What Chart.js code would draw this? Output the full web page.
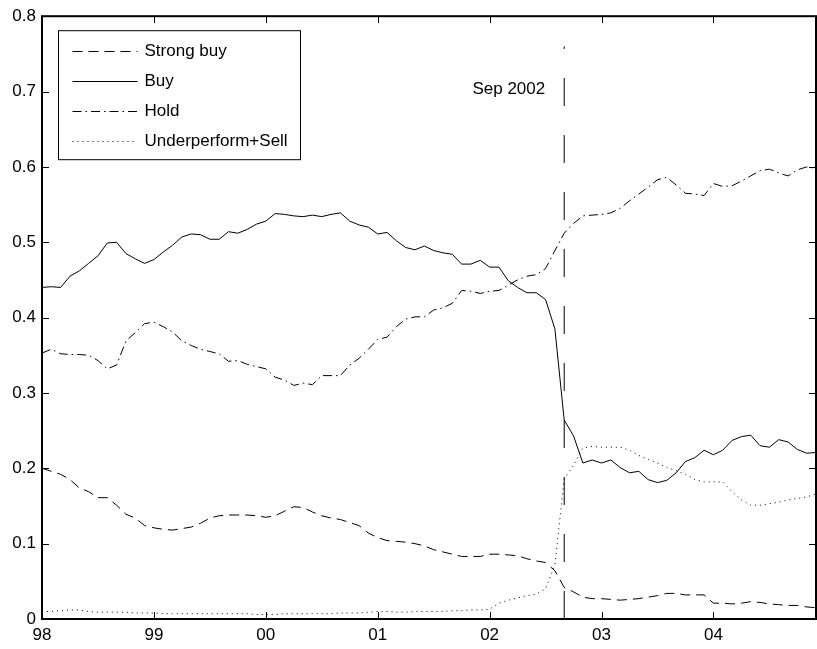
<!DOCTYPE html>
<html>
<head>
<meta charset="utf-8">
<script src="https://cdn.jsdelivr.net/npm/chart.js@4.4.1/dist/chart.umd.min.js"></script>
<style>
  html, body { margin: 0; padding: 0; background: #fff; }
  #wrap { width: 817px; height: 649px; position: relative; }
</style>
</head>
<body>
<div id="wrap"><canvas id="c" width="817" height="649"></canvas></div>
<script>
// ---- data (monthly, Jan 1998 .. Dec 2004) ----
const years = ['1998', '1999', '2000', '2001', '2002', '2003', '2004'];
const monthNames = ['Jan','Feb','Mar','Apr','May','Jun','Jul','Aug','Sep','Oct','Nov','Dec'];
const months = [];
years.forEach(y => monthNames.forEach(m => months.push(m + ' ' + y)));

const xTickLabels = ['98', '99', '00', '01', '02', '03', '04'];
const yTickLabels = ['0', '0.1', '0.2', '0.3', '0.4', '0.5', '0.6', '0.7', '0.8'];

const seriesNames = ['Strong buy', 'Buy', 'Hold', 'Underperform+Sell'];

const strongBuy = [
  0.200, 0.196, 0.192, 0.185, 0.174, 0.169, 0.161, 0.161, 0.151, 0.139,
  0.134, 0.124, 0.121, 0.119, 0.118, 0.120, 0.122, 0.127, 0.134, 0.137,
  0.138, 0.138, 0.138, 0.137, 0.135, 0.137, 0.143, 0.149, 0.148, 0.142,
  0.137, 0.134, 0.132, 0.128, 0.124, 0.114, 0.108, 0.104, 0.103, 0.102,
  0.100, 0.097, 0.092, 0.089, 0.086, 0.083, 0.083, 0.083, 0.086, 0.086,
  0.085, 0.084, 0.080, 0.077, 0.075, 0.064, 0.042, 0.036, 0.029, 0.027,
  0.027, 0.026, 0.025, 0.026, 0.027, 0.029, 0.031, 0.034, 0.034, 0.032,
  0.032, 0.032, 0.021, 0.021, 0.020, 0.021, 0.023, 0.022, 0.020, 0.019,
  0.018, 0.018, 0.016, 0.015
];

const buy = [
  0.440, 0.441, 0.440, 0.455, 0.462, 0.472, 0.482, 0.499, 0.500, 0.485,
  0.478, 0.472, 0.477, 0.487, 0.496, 0.507, 0.511, 0.510, 0.504, 0.504,
  0.514, 0.512, 0.517, 0.524, 0.528, 0.538, 0.537, 0.535, 0.534, 0.536,
  0.534, 0.537, 0.539, 0.528, 0.523, 0.520, 0.511, 0.513, 0.502, 0.493,
  0.490, 0.495, 0.489, 0.486, 0.484, 0.471, 0.471, 0.476, 0.467, 0.467,
  0.449, 0.440, 0.433, 0.433, 0.424, 0.385, 0.264, 0.243, 0.207, 0.211,
  0.207, 0.211, 0.201, 0.194, 0.196, 0.185, 0.181, 0.184, 0.194, 0.209,
  0.214, 0.224, 0.218, 0.224, 0.237, 0.242, 0.244, 0.230, 0.228, 0.238,
  0.235, 0.225, 0.220, 0.221
];

const hold = [
  0.353, 0.358, 0.352, 0.351, 0.351, 0.350, 0.343, 0.332, 0.337, 0.369,
  0.380, 0.392, 0.394, 0.388, 0.381, 0.369, 0.363, 0.358, 0.355, 0.352,
  0.342, 0.343, 0.338, 0.335, 0.332, 0.321, 0.317, 0.310, 0.313, 0.311,
  0.323, 0.323, 0.323, 0.337, 0.346, 0.358, 0.371, 0.374, 0.388, 0.398,
  0.401, 0.401, 0.410, 0.413, 0.419, 0.436, 0.435, 0.432, 0.435, 0.436,
  0.443, 0.450, 0.455, 0.457, 0.465, 0.489, 0.512, 0.525, 0.535, 0.536,
  0.537, 0.539, 0.545, 0.555, 0.564, 0.573, 0.583, 0.586, 0.576, 0.565,
  0.564, 0.562, 0.578, 0.574, 0.575, 0.581, 0.588, 0.595, 0.597, 0.592,
  0.588, 0.596, 0.600, 0.598
];

const underSell = [
  0.010, 0.010, 0.011, 0.012, 0.012, 0.010, 0.009, 0.009, 0.009, 0.009,
  0.008, 0.008, 0.008, 0.007, 0.007, 0.007, 0.007, 0.007, 0.007, 0.007,
  0.007, 0.007, 0.007, 0.006, 0.006, 0.006, 0.007, 0.007, 0.007, 0.007,
  0.007, 0.007, 0.008, 0.008, 0.008, 0.009, 0.010, 0.010, 0.009, 0.009,
  0.010, 0.010, 0.010, 0.010, 0.011, 0.011, 0.012, 0.012, 0.013, 0.021,
  0.025, 0.028, 0.031, 0.033, 0.040, 0.072, 0.186, 0.204, 0.227, 0.229,
  0.228, 0.228, 0.228, 0.224, 0.217, 0.212, 0.207, 0.201, 0.197, 0.192,
  0.185, 0.182, 0.182, 0.182, 0.169, 0.158, 0.151, 0.151, 0.153, 0.155,
  0.158, 0.160, 0.162, 0.166
];

// event marker: Sep 2002
const markerMonth = 'Sep 2002';
const markerLabel = 'Sep 2002';
const markerRange = [0, 0.76];
const markerLabelY = 0.7;

// ---- chart ----
const FONT = '"Liberation Sans", Arial, Helvetica, sans-serif';
const toXY = arr => arr.map((v, i) => ({ x: i, y: v }));
const markerIndex = months.indexOf(markerMonth);

const styles = [
  { dash: [10, 6] },
  { dash: [] },
  { dash: [9, 4, 1.5, 4] },
  { dash: [1, 4] }
];
const seriesData = [strongBuy, buy, hold, underSell];

const datasets = seriesData.map((arr, k) => ({
  label: seriesNames[k],
  data: toXY(arr),
  borderColor: '#000',
  borderWidth: 1,
  borderDash: styles[k].dash,
  pointRadius: 0,
  tension: 0,
  fill: false
}));
datasets.push({
  label: '_marker',
  data: markerRange.map(v => ({ x: markerIndex, y: v })),
  borderColor: '#000',
  borderWidth: 1,
  borderDash: [28, 29],
  pointRadius: 0,
  fill: false
});

const matlabPlugin = {
  id: 'matlab',
  afterDraw(chart) {
    const { ctx, chartArea: a, scales: { x, y } } = chart;
    ctx.save();
    ctx.strokeStyle = '#000';
    ctx.lineWidth = 1;
    ctx.setLineDash([]);
    const seg = (x1, y1, x2, y2) => { ctx.beginPath(); ctx.moveTo(x1, y1); ctx.lineTo(x2, y2); ctx.stroke(); };
    const TL = 7;
    x.ticks.forEach(t => {
      const px = Math.round(x.getPixelForValue(t.value)) + 0.5;
      seg(px, a.bottom, px, a.bottom - TL);
      seg(px, a.top, px, a.top + TL);
    });
    y.ticks.forEach(t => {
      const py = Math.round(y.getPixelForValue(t.value)) + 0.5;
      seg(a.left, py, a.left + TL, py);
      seg(a.right, py, a.right - TL, py);
    });
    // axes box
    ctx.lineWidth = 2;
    ctx.strokeRect(a.left, a.top, a.right - a.left, a.bottom - a.top);

    // marker label
    ctx.font = '17px ' + FONT;
    ctx.fillStyle = '#000';
    ctx.textAlign = 'right';
    ctx.textBaseline = 'middle';
    ctx.fillText(markerLabel, x.getPixelForValue(markerIndex) - 19, y.getPixelForValue(markerLabelY) - 2);

    // legend
    const bx = a.left + 16.5, by = a.top + 14.5, bw = 242, bh = 129;
    ctx.fillStyle = '#fff';
    ctx.fillRect(bx, by, bw, bh);
    ctx.lineWidth = 1;
    ctx.strokeStyle = '#000';
    ctx.strokeRect(bx, by, bw, bh);
    ctx.textAlign = 'left';
    ctx.fillStyle = '#000';
    seriesNames.forEach((name, k) => {
      const ly = Math.round(by + 20.5 + 30 * k) + 0.5;
      ctx.setLineDash(styles[k].dash);
      seg(bx + 14, ly, bx + 79, ly);
      ctx.setLineDash([]);
      ctx.fillText(name, bx + 86, ly);
    });
    ctx.restore();
  }
};

new Chart(document.getElementById('c'), {
  type: 'line',
  data: { datasets },
  options: {
    responsive: false,
    animation: false,
    devicePixelRatio: 1,
    layout: { padding: { top: 12, right: 1, bottom: 0, left: 0 } },
    plugins: { legend: { display: false }, tooltip: { enabled: false } },
    scales: {
      x: {
        type: 'linear',
        min: 0,
        max: months.length - 1,
        grid: { display: false, drawTicks: false },
        border: { display: false },
        afterFit: s => { s.height = 30; },
        ticks: {
          stepSize: 12,
          includeBounds: false,
          autoSkip: false,
          maxRotation: 0,
          padding: 6,
          color: '#000',
          font: { family: FONT, size: 17 },
          callback: v => xTickLabels[Math.round(v / 12)]
        }
      },
      y: {
        min: 0,
        max: 0.8,
        grid: { display: false, drawTicks: false },
        border: { display: false },
        afterFit: s => { s.width = 42; },
        ticks: {
          stepSize: 0.1,
          padding: 6,
          color: '#000',
          font: { family: FONT, size: 17 },
          callback: v => yTickLabels[Math.round(v * 10)]
        }
      }
    }
  },
  plugins: [matlabPlugin]
});
</script>
</body>
</html>
